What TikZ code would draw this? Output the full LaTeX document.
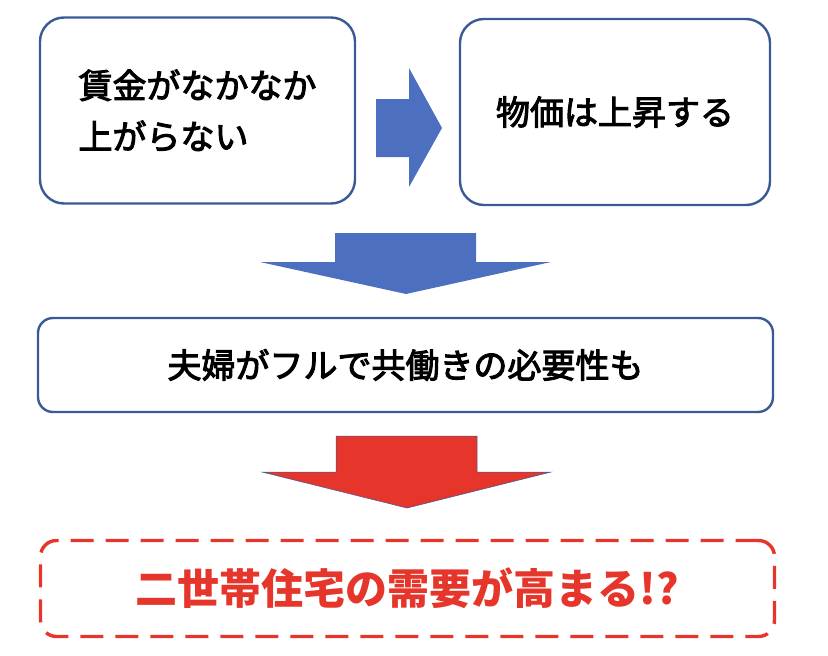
\documentclass[tikz,border=0pt]{standalone}
\usepackage{fontspec}
\newfontfamily\jp{Noto Sans CJK JP}[FakeBold=3]
\newfontfamily\jpheavy{Noto Sans CJK JP}
\definecolor{boxline}{HTML}{3A5A95}
\definecolor{arrowblue}{HTML}{4D6FC0}
\definecolor{alertred}{HTML}{E6352A}
\begin{document}
\begin{tikzpicture}[x=1pt,y=-1pt,
  box/.style={draw=boxline,line width=2.4pt,fill=white,align=left,inner sep=0pt,
    font=\jp\fontsize{34}{51}\selectfont},
  alertbox/.style={draw=alertred,line width=3.4pt,dash pattern=on 23pt off 12pt,rounded corners=16pt,
    inner sep=0pt,text=alertred,font=\jpheavy\bfseries\fontsize{42}{50}\selectfont}]
\useasboundingbox (0,0) rectangle (828,656);
\node[box,rounded corners=24pt,minimum width=315pt,minimum height=186pt] (wage) at (197.5,110.5) {賃金がなかなか\\上がらない};
\node[box,rounded corners=24pt,minimum width=310pt,minimum height=186pt] (price) at (615,112) {物価は上昇する};
\node[box,rounded corners=15pt,minimum width=735pt,minimum height=94pt] (work) at (405.5,365) {夫婦がフルで共働きの必要性も};
\node[alertbox,minimum width=734pt,minimum height=96pt] (demand) at (407.5,588.5) {二世帯住宅の需要が高まる!?};
% block arrows
\fill[arrowblue] (376,99) -- (409,99) -- (409,68) -- (442,128) -- (409,187) -- (409,157) -- (376,157) -- cycle;
\fill[arrowblue] (335,233) -- (476,233) -- (476,262) -- (551,262) -- (406,294) -- (260,262) -- (335,262) -- cycle;
\filldraw[fill=alertred,draw=boxline,line width=0.5pt] (336,436) -- (477,436) -- (477,472) -- (551,472) -- (407,508) -- (262,472) -- (336,472) -- cycle;
\end{tikzpicture}
\end{document}
